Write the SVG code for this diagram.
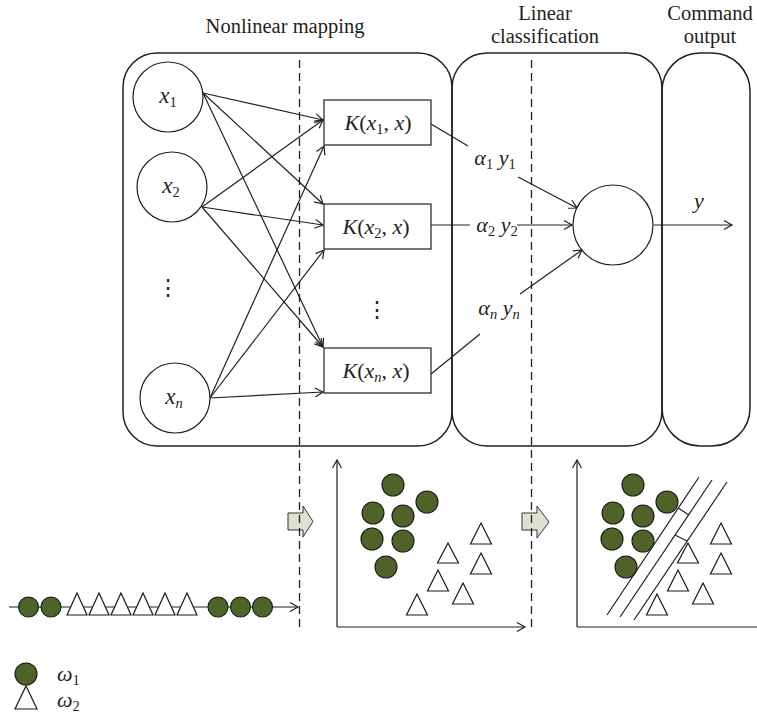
<svg xmlns="http://www.w3.org/2000/svg" xmlns:xlink="http://www.w3.org/1999/xlink" width="757" height="718" viewBox="0 0 757 718">
<defs>
<style>
.t{font-family:"Liberation Serif","Times New Roman",serif;font-size:20.5px;fill:#231f20}
.m{font-family:"Liberation Serif","Times New Roman",serif;font-size:22px;fill:#231f20}
.c{font-size:23px}
.i{font-style:italic}
.s{font-size:14.5px}
.ln{stroke:#231f20;stroke-width:1.2;fill:none}
.panel{stroke:#231f20;stroke-width:1.5;fill:none}
.node{stroke:#231f20;stroke-width:1.2;fill:#fff}
.dash{stroke:#231f20;stroke-width:1.3;stroke-dasharray:8 5;fill:none}
.dot{fill:#4f6228;stroke:#1a1a1a;stroke-width:1.1}
.tri{fill:#fff;stroke:#1a1a1a;stroke-width:1.2}
.blk{fill:#dde3d0;stroke:#333;stroke-width:1}
</style>
<marker id="ah" markerUnits="userSpaceOnUse" markerWidth="12" markerHeight="12" viewBox="-10 -6 12 12" refX="0" refY="0" orient="auto" overflow="visible">
<path d="M-8,-4.5 L0,0 L-8,4.5" fill="none" stroke="#231f20" stroke-width="1.2"/>
</marker>
<g id="scatter">
<circle class="dot" cx="393" cy="485" r="11"/>
<circle class="dot" cx="427" cy="502" r="11"/>
<circle class="dot" cx="373" cy="513" r="11"/>
<circle class="dot" cx="403" cy="516" r="11"/>
<circle class="dot" cx="372" cy="539" r="11"/>
<circle class="dot" cx="403" cy="541" r="11"/>
<circle class="dot" cx="386" cy="567" r="11"/>
<polygon class="tri" points="481,523 491.5,544 470.5,544"/>
<polygon class="tri" points="448,543 458.5,563 437.5,563"/>
<polygon class="tri" points="481,553 491.5,574 470.5,574"/>
<polygon class="tri" points="438,570 448.5,591 427.5,591"/>
<polygon class="tri" points="463,583 473.5,604 452.5,604"/>
<polygon class="tri" points="417,594 427.5,615 406.5,615"/>
</g>
</defs>
<rect width="757" height="718" fill="#fff"/>

<g id="titles">
<text class="t" x="285" y="33" text-anchor="middle">Nonlinear mapping</text>
<text class="t" x="545" y="20" text-anchor="middle">Linear</text>
<text class="t" x="545" y="43" text-anchor="middle">classification</text>
<text class="t" x="710" y="20" text-anchor="middle">Command</text>
<text class="t" x="710" y="43" text-anchor="middle">output</text>
</g>

<g id="panels">
<rect id="panel-nonlinear" class="panel" x="123" y="53" width="329" height="393" rx="34"/>
<rect id="panel-linear" class="panel" x="452" y="53" width="210" height="393" rx="35"/>
<rect id="panel-command" class="panel" x="662" y="53" width="88" height="393" rx="38"/>
</g>

<g id="connectors">
<line class="ln" x1="203" y1="93" x2="323" y2="120" marker-end="url(#ah)"/>
<line class="ln" x1="203" y1="93" x2="323" y2="204" marker-end="url(#ah)"/>
<line class="ln" x1="203" y1="93" x2="323" y2="347" marker-end="url(#ah)"/>
<line class="ln" x1="202" y1="207" x2="323" y2="120" marker-end="url(#ah)"/>
<line class="ln" x1="202" y1="207" x2="323" y2="225" marker-end="url(#ah)"/>
<line class="ln" x1="202" y1="207" x2="323" y2="347" marker-end="url(#ah)"/>
<line class="ln" x1="210" y1="398" x2="324" y2="146" marker-end="url(#ah)"/>
<line class="ln" x1="210" y1="398" x2="324" y2="250" marker-end="url(#ah)"/>
<line class="ln" x1="210" y1="398" x2="323" y2="392" marker-end="url(#ah)"/>
<line class="ln" x1="431" y1="124" x2="468" y2="146"/>
<line class="ln" x1="518" y1="177" x2="577" y2="208" marker-end="url(#ah)"/>
<line class="ln" x1="431" y1="225" x2="470" y2="225"/>
<line class="ln" x1="517" y1="225" x2="572" y2="225" marker-end="url(#ah)"/>
<line class="ln" x1="431" y1="374" x2="480" y2="334"/>
<line class="ln" x1="520" y1="294" x2="582" y2="250" marker-end="url(#ah)"/>
<line class="ln" x1="654" y1="225" x2="732" y2="225" marker-end="url(#ah)"/>
</g>

<g id="node-x1"><circle class="node" cx="168" cy="97" r="35"/>
<text class="m c" x="168" y="103" text-anchor="middle"><tspan class="i">x</tspan><tspan class="s" dy="4">1</tspan></text></g>
<g id="node-x2"><circle class="node" cx="172" cy="187" r="35"/>
<text class="m c" x="171" y="193" text-anchor="middle"><tspan class="i">x</tspan><tspan class="s" dy="4">2</tspan></text></g>
<g id="node-vdots1"><text class="m" x="168" y="295" text-anchor="middle">⋮</text></g>
<g id="node-xn"><circle class="node" cx="175" cy="398" r="35"/>
<text class="m c" x="174" y="404" text-anchor="middle"><tspan class="i">x</tspan><tspan class="s i" dy="4">n</tspan></text></g>

<g id="node-k1"><rect class="node" x="324" y="100" width="107" height="45"/>
<text class="m" x="378" y="130" text-anchor="middle"><tspan class="i">K</tspan>(<tspan class="i">x</tspan><tspan class="s" dy="4">1</tspan><tspan dy="-4">, </tspan><tspan class="i">x</tspan>)</text></g>
<g id="node-k2"><rect class="node" x="324" y="204" width="107" height="45"/>
<text class="m" x="376" y="234" text-anchor="middle"><tspan class="i">K</tspan>(<tspan class="i">x</tspan><tspan class="s" dy="4">2</tspan><tspan dy="-4">, </tspan><tspan class="i">x</tspan>)</text></g>
<g id="node-vdots2"><text class="m" x="377" y="317" text-anchor="middle">⋮</text></g>
<g id="node-kn"><rect class="node" x="324" y="348" width="107" height="45"/>
<text class="m" x="376" y="378" text-anchor="middle"><tspan class="i">K</tspan>(<tspan class="i">x</tspan><tspan class="s i" dy="4">n</tspan><tspan dy="-4">, </tspan><tspan class="i">x</tspan>)</text></g>

<g id="labels-weights">
<text class="m" x="495" y="165" text-anchor="middle"><tspan class="i">α</tspan><tspan class="s" dy="4">1</tspan><tspan class="i" dy="-4"> y</tspan><tspan class="s" dy="4">1</tspan></text>
<text class="m" x="497" y="232" text-anchor="middle"><tspan class="i">α</tspan><tspan class="s" dy="4">2</tspan><tspan class="i" dy="-4"> y</tspan><tspan class="s" dy="4">2</tspan></text>
<text class="m" x="499" y="315" text-anchor="middle"><tspan class="i">α</tspan><tspan class="s i" dy="4">n</tspan><tspan class="i" dy="-4"> y</tspan><tspan class="s i" dy="4">n</tspan></text>
<text class="m i" x="699" y="208" text-anchor="middle">y</text>
</g>

<g id="node-sum"><circle class="node" cx="613" cy="225" r="40"/></g>

<g id="plots">
<use xlink:href="#scatter"/>
<use xlink:href="#scatter" transform="translate(240,0)"/>
<line class="ln" x1="337" y1="627" x2="337" y2="460" marker-end="url(#ah)"/>
<line class="ln" x1="337" y1="627" x2="525" y2="627" marker-end="url(#ah)"/>
<line class="ln" x1="577" y1="627" x2="577" y2="460" marker-end="url(#ah)"/>
<line class="ln" x1="577" y1="627" x2="760" y2="627"/>
<line class="ln" x1="607" y1="615" x2="699" y2="477"/>
<line class="ln" x1="620" y1="617" x2="712" y2="480"/>
<line class="ln" x1="634" y1="620" x2="727" y2="482"/>
<line class="ln" x1="678" y1="508" x2="689" y2="515"/>
<line class="ln" x1="675" y1="535" x2="687" y2="541"/>
</g>

<g id="number-line">
<line class="ln" x1="9" y1="607" x2="298" y2="607" marker-end="url(#ah)"/>
<circle class="dot" cx="28.5" cy="607" r="10"/>
<circle class="dot" cx="51" cy="607" r="10"/>
<polygon class="tri" points="77,593 87,615 67,615"/>
<polygon class="tri" points="99,593 109,615 89,615"/>
<polygon class="tri" points="121,593 131,615 111,615"/>
<polygon class="tri" points="143,593 153,615 133,615"/>
<polygon class="tri" points="165,593 175,615 155,615"/>
<polygon class="tri" points="187,593 197,615 177,615"/>
<circle class="dot" cx="218" cy="607" r="10"/>
<circle class="dot" cx="240.5" cy="607" r="10"/>
<circle class="dot" cx="262.5" cy="607" r="10"/>
</g>

<g id="block-arrows">
<polygon class="blk" points="288,513 303,513 303,506 313,521.5 303,537 303,530 288,530"/>
<polygon class="blk" points="522,513 537,513 537,506 549,522 537,538 537,530 522,530"/>
</g>

<g id="dividers">
<line class="dash" x1="299.5" y1="60" x2="299.5" y2="630"/>
<line class="dash" x1="531.5" y1="60" x2="531.5" y2="630"/>
</g>

<g id="legend">
<circle class="dot" cx="26" cy="674" r="11"/>
<text class="m" x="57" y="681"><tspan class="i">ω</tspan><tspan class="s" dy="4">1</tspan></text>
<polygon class="tri" points="26,686 37,709 15,709"/>
<text class="m" x="57" y="707"><tspan class="i">ω</tspan><tspan class="s" dy="4">2</tspan></text>
</g>
</svg>
